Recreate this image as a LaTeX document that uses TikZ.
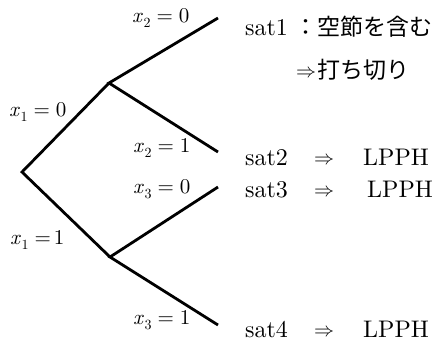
\documentclass[tikz,border=0pt]{standalone}
\usepackage{fontspec}
\setmainfont{lmroman10-regular.otf}[ItalicFont=lmroman10-italic.otf]
\newfontfamily\jp{Noto Sans CJK JP}
\tikzset{
  branch/.style={line width=2.8pt},
  lbl/.style={inner sep=0pt, anchor=base west, font=\fontsize{21}{25}\selectfont},
  res/.style={inner sep=0pt, anchor=base west, font=\fontsize{24}{28}\selectfont},
}
\newcommand{\arr}{\raisebox{0.5pt}{\fontsize{10}{12}\selectfont\scalebox{2.0}{$\Rightarrow$}}}
\newcommand{\xv}[3]{\textit{x}\kern0.5pt\raisebox{-5pt}{\fontsize{14}{17}\selectfont #1}\hspace{6pt}=\hspace{#3}#2}
\begin{document}
\begin{tikzpicture}[x=1pt,y=-1pt]
\useasboundingbox (0,0) rectangle (438,341);
% tree points
\coordinate (root) at (22,172);
\coordinate (n0) at (109,83);
\coordinate (n1) at (110,257);
\coordinate (l1) at (218,18);
\coordinate (l2) at (218,152);
\coordinate (l3) at (218,187);
\coordinate (l4) at (218,325);
% branches
\draw[branch] (n0) -- (root) -- (n1);
\draw[branch] (l1) -- (n0) -- (l2);
\draw[branch] (l3) -- (n1) -- (l4);
% branch labels
\node[lbl] (a1) at (9,116) {\xv{1}{0}{6pt}};
\node[lbl] (a2) at (10,244) {\xv{1}{1}{3pt}};
\node[lbl] (b1) at (132,22) {\xv{2}{0}{6pt}};
\node[lbl] (b2) at (133,152) {\xv{2}{1}{6pt}};
\node[lbl] (c1) at (133,193) {\xv{3}{0}{6pt}};
\node[lbl] (c2) at (133,324) {\xv{3}{1}{6pt}};
% results
\node[res] (s1) at (245,35) {\makebox[49pt][l]{sat1}{\jp\fontsize{23}{28}\selectfont ：空節を含む}};
\node[res] (s1b) at (296,78) {\arr\hspace{1pt}{\jp\fontsize{23}{28}\selectfont 打ち切り}};
\node[res] (s2) at (245,165) {\makebox[69pt][l]{sat2}\makebox[49pt][l]{\arr}LPPH};
\node[res] (s3) at (245,197) {\makebox[69pt][l]{sat3}\makebox[53pt][l]{\arr}LPPH};
\node[res] (s4) at (245,337) {\makebox[69pt][l]{sat4}\makebox[49pt][l]{\arr}LPPH};
\end{tikzpicture}
\end{document}
